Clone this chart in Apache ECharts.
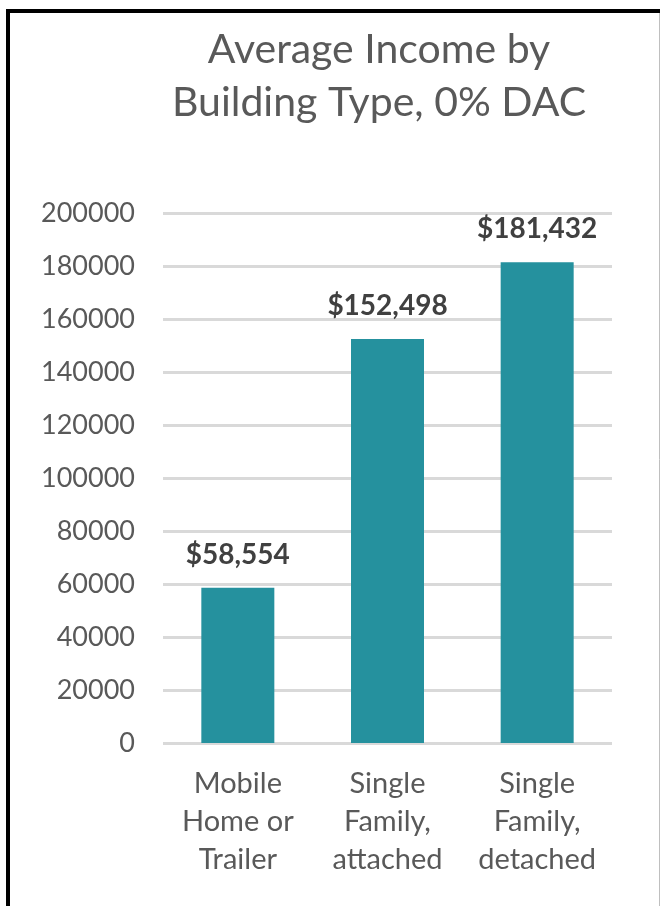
<!DOCTYPE html>
<html>
<head>
<meta charset="utf-8">
<script src="https://cdn.jsdelivr.net/npm/echarts@6/dist/echarts.min.js"></script>
<style>
  html, body { margin: 0; padding: 0; background: #fff; }
  #chart { width: 660px; height: 906px; }
</style>
</head>
<body>
<div id="chart"></div>
<script>
// Average household income by building type
const categories = ['Mobile\nHome or\nTrailer', 'Single\nFamily,\nattached', 'Single\nFamily,\ndetached'];
const incomes = [58554, 152498, 181432];
const yTicks = { min: 0, max: 200000, interval: 20000 };

const FONT = 'Lato, "Liberation Sans", sans-serif';
const chart = echarts.init(document.getElementById('chart'), null, { renderer: 'canvas' });

const money = v => '$' + v.toLocaleString('en-US');

chart.setOption({
  backgroundColor: '#ffffff',
  animation: false,
  title: {
    text: 'Average Income by\nBuilding Type, 0% DAC',
    left: 374,
    top: 18,
    textAlign: 'center',
    textStyle: {
      fontFamily: FONT,
      fontWeight: 'normal',
      fontSize: 41,
      lineHeight: 53,
      color: '#595959'
    }
  },
  grid: { left: 163, right: 48, top: 213, bottom: 163, containLabel: false },
  xAxis: {
    type: 'category',
    data: categories,
    axisLine: { show: false },
    axisTick: { show: false },
    axisLabel: {
      interval: 0,
      margin: 22,
      fontFamily: FONT,
      fontSize: 29,
      lineHeight: 38,
      color: '#595959'
    }
  },
  yAxis: {
    type: 'value',
    min: yTicks.min,
    max: yTicks.max,
    interval: yTicks.interval,
    axisLine: { show: false },
    axisTick: { show: false },
    axisLabel: {
      margin: 28,
      formatter: v => String(v),
      fontFamily: FONT,
      fontSize: 27,
      color: '#595959'
    },
    splitLine: { lineStyle: { color: '#d9d9d9', width: 3 } }
  },
  series: [{
    type: 'bar',
    data: incomes,
    barWidth: 73,
    itemStyle: { color: '#25919E' },
    label: {
      show: true,
      position: 'top',
      distance: 19,
      formatter: p => money(p.value),
      fontFamily: FONT,
      fontWeight: 'bold',
      fontSize: 28,
      color: '#404040'
    }
  }],
  graphic: [
    // chart frame
    { type: 'line', shape: { x1: 8, y1: 11, x2: 8, y2: 906 }, style: { stroke: '#000', lineWidth: 4 } },
    { type: 'line', shape: { x1: 6, y1: 11, x2: 660, y2: 11 }, style: { stroke: '#000', lineWidth: 4 } },
    { type: 'line', shape: { x1: 659.5, y1: 13, x2: 659.5, y2: 906 }, style: { stroke: '#bfbfbf', lineWidth: 1 } }
  ]
});
</script>
</body>
</html>
